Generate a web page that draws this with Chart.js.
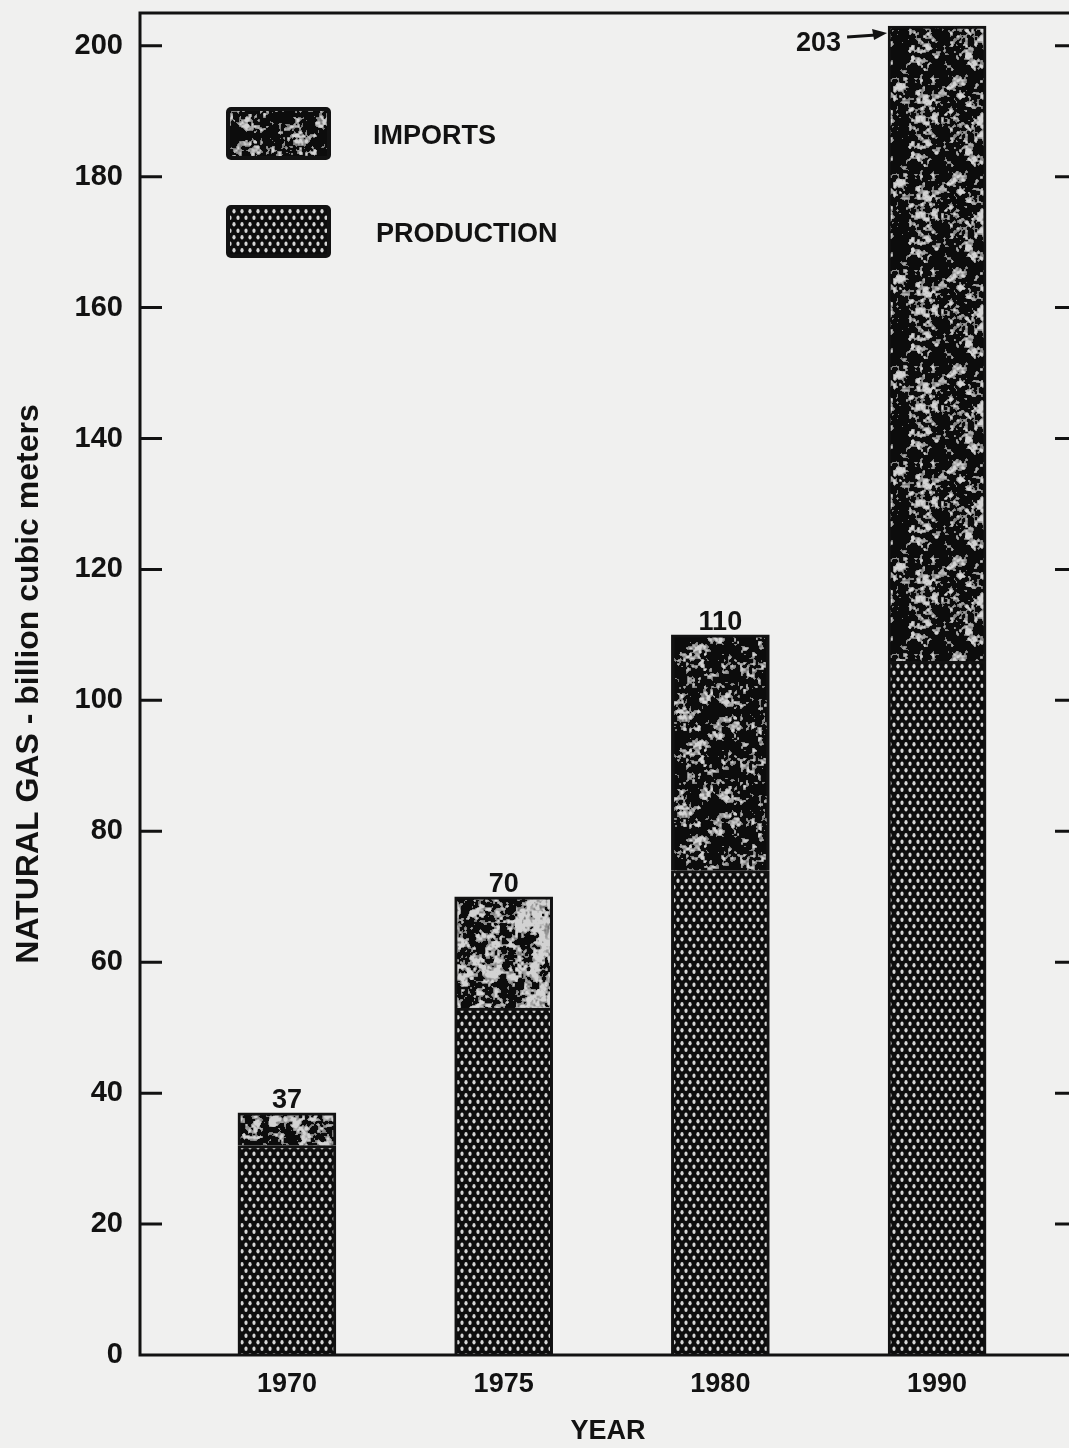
<!DOCTYPE html>
<html>
<head>
<meta charset="utf-8">
<title>Natural gas supply</title>
<script src="https://cdn.jsdelivr.net/npm/chart.js@4/dist/chart.umd.min.js"></script>
<style>
  html, body { margin: 0; padding: 0; background: #f0f0ef; overflow: hidden; }
  #wrap { width: 1078px; height: 1448px; }
</style>
</head>
<body>
<div id="wrap"><canvas id="gasChart" width="1078" height="1448"></canvas></div>
<script>
// ---------- DATA ----------
const years = ["1970", "1975", "1980", "1990"];
const production = [32, 53, 74, 106];
const imports = [5, 17, 36, 97];
const yTickValues = [0, 20, 40, 60, 80, 100, 120, 140, 160, 180, 200];

const INK = "#121212";
const FONT = "'Liberation Sans', Arial, sans-serif";

const canvas = document.getElementById("gasChart");
const ctx = canvas.getContext("2d");

// ---------- FILL PATTERNS ----------
// production: light dots on black, staggered rows
function dotPattern() {
  const tile = document.createElement("canvas");
  tile.width = 8;
  tile.height = 13;
  const g = tile.getContext("2d");
  g.fillStyle = "#0d0d0d";
  g.fillRect(0, 0, 8, 13);
  g.fillStyle = "#d6d6d6";
  [[2, 3.25], [6, 9.75]].forEach(([x, y]) => {
    g.beginPath();
    g.ellipse(x, y, 1.6, 2.2, 0, 0, Math.PI * 2);
    g.fill();
  });
  return ctx.createPattern(tile, "repeat");
}

// imports: grey mottling on black (deterministic hash noise, no randomness)
function hash(i, j, s) {
  const v = Math.sin(i * 127.1 + j * 311.7 + s * 74.7) * 43758.5453;
  return v - Math.floor(v);
}
function noiseAt(x, y, cell, n, s) {
  const gx = x / cell, gy = y / cell;
  const i0 = Math.floor(gx), j0 = Math.floor(gy);
  const fx = gx - i0, fy = gy - j0;
  const sx = fx * fx * (3 - 2 * fx), sy = fy * fy * (3 - 2 * fy);
  const w = (i) => ((i % n) + n) % n;
  const a = hash(w(i0), w(j0), s), b = hash(w(i0 + 1), w(j0), s);
  const c = hash(w(i0), w(j0 + 1), s), d = hash(w(i0 + 1), w(j0 + 1), s);
  return (a * (1 - sx) + b * sx) * (1 - sy) + (c * (1 - sx) + d * sx) * sy;
}
function specklePattern(seed, level) {
  const size = 96;
  const tile = document.createElement("canvas");
  tile.width = size;
  tile.height = size;
  const g = tile.getContext("2d");
  const img = g.createImageData(size, size);
  for (let y = 0; y < size; y++) {
    for (let x = 0; x < size; x++) {
      const v = 0.45 * noiseAt(x, y, 8, size / 8, seed) +
                0.35 * noiseAt(x, y, 3, size / 3, seed + 9) +
                0.2 * noiseAt(x, y, 2, size / 2, seed + 17);
      let c = 12;
      if (v > level) c = Math.min(210, 110 + (v - level) * 600);
      const k = (y * size + x) * 4;
      img.data[k] = img.data[k + 1] = img.data[k + 2] = c;
      img.data[k + 3] = 255;
    }
  }
  g.putImageData(img, 0, 0);
  return ctx.createPattern(tile, "repeat");
}

const prodFill = dotPattern();
const importFills = [
  specklePattern(1, 0.5),
  specklePattern(2, 0.46),
  specklePattern(3, 0.58),
  specklePattern(4, 0.55),
];

// ---------- PLUGINS ----------
// frame: box lines and inward tick marks on both sides
const framePlugin = {
  id: "frame",
  afterDraw(chart) {
    const { ctx, chartArea: a } = chart;
    const yScale = chart.scales.y;
    ctx.save();
    ctx.strokeStyle = INK;
    ctx.lineWidth = 3;
    ctx.lineCap = "square";
    ctx.beginPath();
    ctx.moveTo(a.right, a.top);
    ctx.lineTo(a.left, a.top);
    ctx.lineTo(a.left, a.bottom);
    ctx.lineTo(a.right, a.bottom);
    ctx.lineTo(a.right, a.top);
    ctx.stroke();
    ctx.lineCap = "butt";
    yScale.ticks.forEach((t) => {
      if (t.value === 0) return;
      const py = yScale.getPixelForValue(t.value);
      ctx.beginPath();
      ctx.moveTo(a.left, py);
      ctx.lineTo(a.left + 22, py);
      ctx.moveTo(a.right, py);
      ctx.lineTo(a.right - 21, py);
      ctx.stroke();
    });
    ctx.restore();
  },
};

// totals above bars; near the top the total goes to the left with an arrow
const totalsPlugin = {
  id: "totals",
  afterDatasetsDraw(chart) {
    const { ctx, chartArea: a } = chart;
    const xs = chart.scales.x, ys = chart.scales.y;
    const half = chart.getDatasetMeta(0).data[0].width / 2;
    ctx.save();
    ctx.fillStyle = INK;
    ctx.strokeStyle = INK;
    ctx.font = "bold 27px " + FONT;
    years.forEach((yr, i) => {
      const total = production[i] + imports[i];
      const px = xs.getPixelForValue(i);
      const py = ys.getPixelForValue(total);
      if (py - 32 > a.top) {
        ctx.textAlign = "center";
        ctx.textBaseline = "alphabetic";
        ctx.fillText(String(total), px, py - 5);
      } else {
        const left = px - half;
        const ay = py + 10;
        ctx.textAlign = "right";
        ctx.textBaseline = "middle";
        ctx.fillText(String(total), left - 47, py + 17);
        ctx.lineWidth = 3;
        ctx.beginPath();
        ctx.moveTo(left - 41, ay + 1);
        ctx.lineTo(left - 12, ay - 1);
        ctx.stroke();
        ctx.beginPath();
        ctx.moveTo(left - 1, ay - 3);
        ctx.lineTo(left - 16, ay - 7);
        ctx.lineTo(left - 14, ay + 4);
        ctx.closePath();
        ctx.fill();
      }
    });
    ctx.restore();
  },
};

// legend boxes inside the plot, imports on top
const legendPlugin = {
  id: "boxLegend",
  afterDraw(chart) {
    const { ctx, chartArea: a } = chart;
    const items = chart.data.datasets.slice().reverse();
    ctx.save();
    items.forEach((ds, k) => {
      const bx = a.left + 86, by = a.top + 94 + k * 98;
      const fill = Array.isArray(ds.backgroundColor) ? ds.backgroundColor[2] : ds.backgroundColor;
      ctx.fillStyle = INK;
      ctx.beginPath();
      ctx.roundRect(bx, by, 105, 53, 5);
      ctx.fill();
      ctx.fillStyle = fill;
      ctx.fillRect(bx + 4, by + 4, 97, 45);
      ctx.fillStyle = INK;
      ctx.font = "bold 27px " + FONT;
      ctx.textAlign = "left";
      ctx.textBaseline = "middle";
      ctx.fillText(ds.label, bx + 147 + k * 3, by + 30);
    });
    ctx.restore();
  },
};

// ---------- CHART ----------
new Chart(canvas, {
  type: "bar",
  data: {
    datasets: [
      {
        label: "PRODUCTION",
        data: years.map((_, i) => ({ x: i, y: production[i] })),
        backgroundColor: prodFill,
        borderColor: INK,
        borderWidth: 3,
        borderSkipped: "bottom",
        barThickness: 98,
      },
      {
        label: "IMPORTS",
        data: years.map((_, i) => ({ x: i, y: imports[i] })),
        backgroundColor: importFills,
        borderColor: INK,
        borderWidth: 3,
        borderSkipped: "bottom",
        barThickness: 98,
      },
    ],
  },
  options: {
    responsive: false,
    animation: false,
    events: [],
    devicePixelRatio: 1,
    layout: { padding: { top: 13, right: 2, left: 0, bottom: 0 } },
    plugins: {
      legend: { display: false },
      tooltip: { enabled: false },
    },
    scales: {
      x: {
        type: "linear",
        stacked: true,
        offset: false,
        min: -0.678,
        max: 3.641,
        grid: { display: false, drawTicks: false },
        border: { display: false },
        afterBuildTicks: (s) => { s.ticks = years.map((_, i) => ({ value: i })); },
        afterFit: (s) => { s.height = 93; s.paddingLeft = 0; s.paddingRight = 0; },
        ticks: {
          padding: 13,
          color: INK,
          font: { family: FONT, size: 27, weight: "bold" },
          callback: (v) => years[v],
        },
        title: {
          display: true,
          text: "YEAR",
          color: INK,
          padding: { top: 0, bottom: 0 },
          font: { family: FONT, size: 27, weight: "bold" },
        },
      },
      y: {
        stacked: true,
        min: 0,
        max: 205,
        grid: { display: false, drawTicks: false },
        border: { display: false },
        afterBuildTicks: (s) => { s.ticks = yTickValues.map((v) => ({ value: v })); },
        afterFit: (s) => { s.width = 140; s.paddingTop = 0; s.paddingBottom = 0; },
        ticks: {
          padding: 17,
          color: INK,
          font: { family: FONT, size: 29, weight: "bold" },
        },
        title: {
          display: true,
          text: "NATURAL GAS - billion cubic meters",
          color: INK,
          padding: { top: 10, bottom: 10 },
          font: { family: FONT, size: 32, weight: "bold" },
        },
      },
    },
  },
  plugins: [framePlugin, totalsPlugin, legendPlugin],
});
</script>
</body>
</html>
